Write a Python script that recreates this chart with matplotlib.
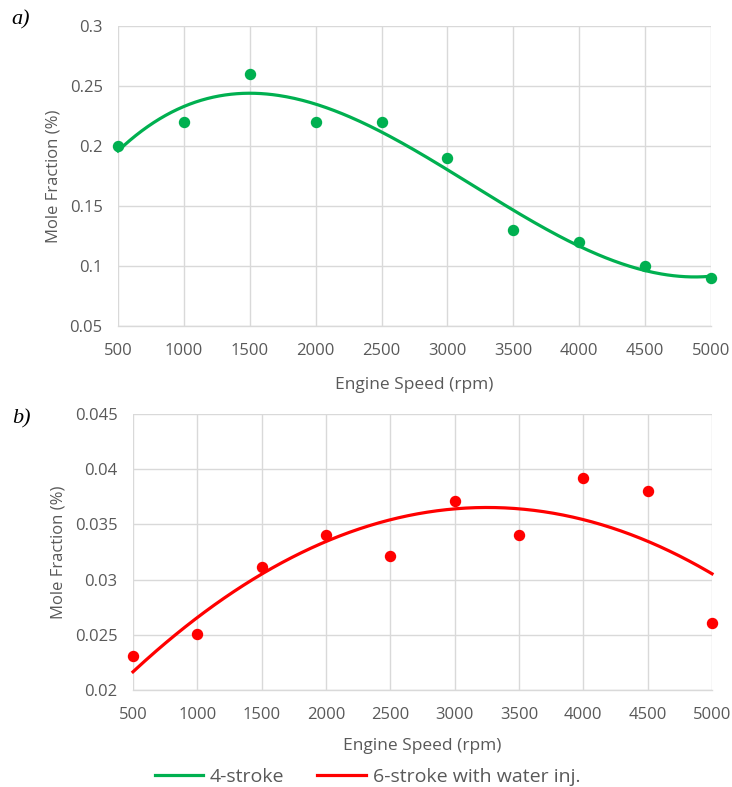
import numpy as np
import matplotlib
matplotlib.use("Agg")
import matplotlib.pyplot as plt
from matplotlib.lines import Line2D

speed = [500, 1000, 1500, 2000, 2500, 3000, 3500, 4000, 4500, 5000]
four_stroke = [0.20, 0.22, 0.26, 0.22, 0.22, 0.19, 0.13, 0.12, 0.10, 0.09]
six_stroke = [0.0231, 0.0251, 0.0311, 0.0340, 0.0321, 0.0371, 0.0340, 0.0392, 0.0380, 0.0261]

xticks = [500, 1000, 1500, 2000, 2500, 3000, 3500, 4000, 4500, 5000]
yticks_a = [0.05, 0.1, 0.15, 0.2, 0.25, 0.3]
ytick_labels_a = ["0.05", "0.1", "0.15", "0.2", "0.25", "0.3"]
yticks_b = [0.02, 0.025, 0.03, 0.035, 0.04, 0.045]
ytick_labels_b = ["0.02", "0.025", "0.03", "0.035", "0.04", "0.045"]

GREEN = "#00b050"
RED = "#ff0000"
GRAY = "#595959"
GRID = "#d9d9d9"
FONT = "Open Sans"

plt.rcParams["font.family"] = [FONT, "DejaVu Sans"]

fig = plt.figure(figsize=(7.32, 7.87), dpi=100)
ax1 = fig.add_axes([0.1612, 0.5858, 0.8101, 0.3812])
ax2 = fig.add_axes([0.1817, 0.1233, 0.7910, 0.3507])


def style(ax, yticks, ylabels, ylim, xlabelpad):
    ax.set_xlim(500, 5000)
    ax.set_ylim(*ylim)
    ax.set_xticks(xticks)
    ax.set_xticklabels([str(v) for v in xticks])
    ax.set_yticks(yticks)
    ax.set_yticklabels(ylabels)
    ax.grid(True, color=GRID, lw=1.0)
    ax.set_axisbelow(True)
    for s in ["top", "right", "left"]:
        ax.spines[s].set_visible(False)
    ax.spines["bottom"].set_color(GRID)
    ax.spines["bottom"].set_linewidth(1.0)
    ax.tick_params(axis="x", length=0, labelsize=12, labelcolor=GRAY, pad=12.5)
    ax.tick_params(axis="y", length=0, labelsize=12, labelcolor=GRAY, pad=11)
    ax.set_xlabel("Engine Speed (rpm)", fontsize=12.5, color=GRAY, labelpad=xlabelpad)
    ax.set_ylabel("Mole Fraction (%)", fontsize=12, color=GRAY, labelpad=6)


xs = np.linspace(500, 5000, 300)

style(ax1, yticks_a, ytick_labels_a, (0.05, 0.3), 12.5)
c1 = np.polyfit(speed, four_stroke, 3)
ax1.plot(xs, np.polyval(c1, xs), color=GREEN, lw=2.3, zorder=3, clip_on=False)
ax1.plot(speed, four_stroke, "o", color=GREEN, ms=7.2, zorder=4, clip_on=False)

style(ax2, yticks_b, ytick_labels_b, (0.02, 0.045), 10.5)
c2 = np.polyfit(speed, six_stroke, 2)
ax2.plot(xs, np.polyval(c2, xs), color=RED, lw=2.3, zorder=3, clip_on=False)
ax2.plot(speed, six_stroke, "o", color=RED, ms=7.2, zorder=4, clip_on=False)

fig.text(0.016, 0.975, "a)", fontsize=16, style="italic", family="Liberation Serif", va="center")
fig.text(0.016, 0.468, "b)", fontsize=16, style="italic", family="Liberation Serif", va="center")

handles = [Line2D([0], [0], color=GREEN, lw=2.3), Line2D([0], [0], color=RED, lw=2.3)]
fig.legend(handles, ["4-stroke", "6-stroke with water inj."], loc="center",
           bbox_to_anchor=(0.502, 0.013), ncol=2, frameon=False, fontsize=14,
           labelcolor=GRAY, handlelength=2.5, columnspacing=1.7, handletextpad=0.35,
           borderpad=0, borderaxespad=0)

fig.savefig("out.png", dpi=100)
